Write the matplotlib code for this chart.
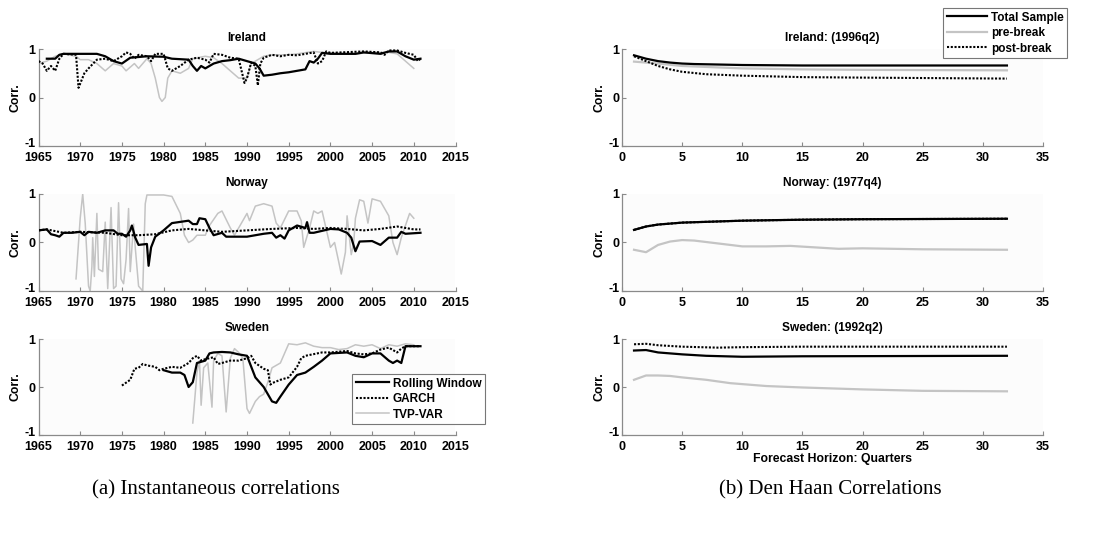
import numpy as np
import matplotlib
matplotlib.use("Agg")
import matplotlib.pyplot as plt
from matplotlib.lines import Line2D
from matplotlib.transforms import ScaledTranslation

plt.rcParams['font.family'] = ['Liberation Sans', 'DejaVu Sans']
plt.rcParams['font.weight'] = 'bold'

# ---------------- Instantaneous correlations (year, value) ----------------
ire_roll_t = [1966, 1967, 1967.5, 1968, 1970, 1972, 1973, 1974, 1975, 1976, 1978, 1980, 1981, 1983,
              1983.5, 1984, 1984.5, 1985, 1986, 1987, 1988, 1989, 1990, 1991, 1991.5, 1992, 1993,
              1994, 1995, 1996, 1997, 1997.5, 1998, 1998.5, 1999, 2000, 2003, 2004, 2006, 2007,
              2008, 2009, 2010, 2010.8]
ire_roll_v = [0.8, 0.8, 0.88, 0.9, 0.9, 0.9, 0.85, 0.75, 0.7, 0.82, 0.85, 0.84, 0.8, 0.78,
              0.65, 0.55, 0.65, 0.6, 0.7, 0.75, 0.77, 0.8, 0.75, 0.7, 0.6, 0.45, 0.47,
              0.5, 0.52, 0.55, 0.58, 0.75, 0.72, 0.8, 0.92, 0.9, 0.9, 0.93, 0.9, 0.95,
              0.95, 0.85, 0.78, 0.8]

ire_garch_t = [1965, 1965.5, 1966, 1966.5, 1967, 1967.5, 1968, 1969.5, 1969.8, 1970.5, 1971, 1972,
               1973, 1974, 1975, 1975.5, 1976, 1976.5, 1977, 1978, 1978.5, 1979, 1980, 1980.5,
               1981, 1982, 1983, 1984, 1985, 1985.5, 1986, 1987, 1988, 1989, 1989.7, 1990,
               1990.5, 1991, 1991.3, 1991.6, 1992, 1993, 1994, 1995, 1996, 1997, 1998, 1998.5,
               1999, 1999.5, 2000, 2004, 2006, 2006.5, 2007, 2008, 2009, 2010, 2010.5, 2010.8]
ire_garch_v = [0.75, 0.7, 0.55, 0.65, 0.55, 0.8, 0.9, 0.88, 0.2, 0.5, 0.6, 0.78,
               0.8, 0.75, 0.85, 0.93, 0.9, 0.8, 0.88, 0.85, 0.75, 0.9, 0.9, 0.6,
               0.55, 0.65, 0.78, 0.82, 0.78, 0.72, 0.9, 0.88, 0.82, 0.8, 0.3, 0.4,
               0.72, 0.65, 0.25, 0.7, 0.82, 0.88, 0.85, 0.88, 0.87, 0.9, 0.93, 0.7,
               0.75, 0.95, 0.92, 0.95, 0.93, 0.88, 0.97, 0.97, 0.92, 0.88, 0.75, 0.8]

ire_tvp_t = [1965, 1966, 1967, 1968, 1969.5, 1970, 1971, 1972, 1973, 1974, 1975, 1975.5, 1976.5,
             1977, 1978, 1978.5, 1979, 1979.5, 1979.8, 1980.2, 1980.5, 1981, 1982, 1983, 1983.5,
             1984, 1985, 1986, 1987, 1988, 1989, 1990, 1990.5, 1991, 1992, 1993, 1995, 1996,
             1998, 1999, 2000, 2001, 2003, 2005, 2007, 2008, 2009, 2010]
ire_tvp_v = [0.7, 0.75, 0.85, 0.9, 0.85, 0.78, 0.78, 0.7, 0.55, 0.7, 0.65, 0.55, 0.7,
             0.6, 0.8, 0.7, 0.4, 0.0, -0.08, 0.0, 0.4, 0.55, 0.5, 0.6, 0.8,
             0.82, 0.85, 0.82, 0.7, 0.55, 0.4, 0.4, 0.7, 0.75, 0.85, 0.88, 0.88, 0.9,
             0.95, 0.93, 0.92, 0.9, 0.9, 0.93, 0.93, 0.9, 0.75, 0.6]

nor_roll_t = [1965, 1966, 1966.5, 1967, 1967.5, 1968, 1969, 1970, 1970.5, 1971, 1972, 1973, 1974,
              1974.5, 1975, 1975.5, 1976, 1976.2, 1976.6, 1977, 1978, 1978.2, 1978.5, 1979, 1980,
              1981, 1983, 1983.5, 1984, 1984.3, 1985, 1985.5, 1986, 1987, 1987.5, 1989, 1990,
              1991, 1992, 1993, 1993.5, 1994, 1994.5, 1995, 1996, 1997, 1997.2, 1997.5, 1998,
              2000, 2001, 2002, 2002.5, 2003, 2003.5, 2005, 2006, 2007, 2008, 2008.5, 2009, 2010.8]
nor_roll_v = [0.25, 0.27, 0.17, 0.15, 0.12, 0.2, 0.2, 0.22, 0.15, 0.22, 0.2, 0.25, 0.25,
              0.18, 0.18, 0.12, 0.25, 0.35, 0.1, -0.05, -0.03, -0.48, -0.1, 0.12, 0.25,
              0.4, 0.45, 0.38, 0.38, 0.5, 0.48, 0.3, 0.15, 0.2, 0.12, 0.12, 0.12,
              0.15, 0.18, 0.2, 0.1, 0.15, 0.08, 0.25, 0.35, 0.3, 0.42, 0.2, 0.2,
              0.28, 0.27, 0.2, 0.1, -0.18, 0.02, 0.03, -0.05, 0.1, 0.1, 0.22, 0.18, 0.2]

nor_garch_t = [1965, 1966, 1968, 1970, 1973, 1975, 1977, 1979, 1981, 1983, 1985, 1987, 1990,
               1993, 1996, 1998, 2000, 2002, 2004, 2006, 2008, 2010, 2010.8]
nor_garch_v = [0.25, 0.27, 0.2, 0.22, 0.2, 0.15, 0.15, 0.17, 0.25, 0.28, 0.25, 0.22, 0.25,
               0.28, 0.3, 0.28, 0.3, 0.28, 0.25, 0.28, 0.33, 0.27, 0.27]

nor_tvp_t = [1969.5, 1970, 1970.3, 1970.6, 1971, 1971.2, 1971.4, 1971.5, 1971.7, 1972, 1972.2,
             1972.7, 1973, 1973.3, 1973.7, 1974, 1974.3, 1974.6, 1974.9, 1975.2, 1975.5, 1975.8,
             1976, 1976.4, 1976.6, 1977, 1977.5, 1977.8, 1978, 1980, 1981, 1982, 1982.5, 1983,
             1983.5, 1984, 1985, 1985.5, 1986.5, 1987, 1988, 1988.5, 1989, 1990, 1990.3, 1991,
             1992, 1993, 1993.5, 1994, 1995, 1996, 1996.5, 1996.8, 1997.5, 1998, 1998.5, 1999,
             2000, 2000.5, 2001, 2001.3, 2001.8, 2002, 2002.5, 2002.8, 2003, 2003.5, 2004,
             2004.5, 2005, 2006, 2007, 2007.5, 2008, 2008.5, 2009.5, 2010]
nor_tvp_v = [-0.75, 0.5, 1.0, 0.4, -0.9, -1.0, -0.5, 0.1, -0.7, 0.6, -0.55,
             -0.6, 0.42, -0.95, 0.72, -0.95, -0.9, 0.82, -0.75, -0.85, -0.35, 0.7,
             -0.6, 0.38, -0.1, -0.9, -1.0, 0.8, 0.98, 0.98, 0.95, 0.6, 0.15, 0.0,
             0.05, 0.15, 0.15, 0.35, 0.6, 0.65, 0.3, 0.15, 0.3, 0.6, 0.45, 0.75,
             0.8, 0.75, 0.4, 0.3, 0.65, 0.65, 0.45, -0.1, 0.3, 0.65, 0.6, 0.65,
             -0.1, 0.0, -0.4, -0.65, -0.2, 0.55, -0.25, 0.0, 0.5, 0.88, 0.85,
             0.4, 0.9, 0.85, 0.55, 0.0, -0.25, 0.1, 0.6, 0.5]

swe_roll_t = [1980, 1981, 1982, 1982.5, 1983, 1983.5, 1984, 1985, 1985.5, 1986, 1987, 1988, 1989,
              1990, 1991, 1992, 1992.5, 1993, 1993.5, 1994, 1995, 1996, 1997, 1998, 1999, 2000,
              2002, 2003, 2004, 2005, 2006, 2007, 2007.5, 2008, 2008.5, 2009, 2010.8]
swe_roll_v = [0.35, 0.3, 0.3, 0.25, 0.0, 0.1, 0.5, 0.55, 0.7, 0.72, 0.73, 0.72, 0.68,
              0.65, 0.2, 0.0, -0.15, -0.3, -0.33, -0.2, 0.05, 0.25, 0.3, 0.42, 0.55, 0.7,
              0.72, 0.65, 0.62, 0.7, 0.7, 0.55, 0.5, 0.55, 0.5, 0.85, 0.85]

swe_garch_t = [1975, 1976, 1976.5, 1977, 1977.5, 1978, 1979, 1979.5, 1980, 1981, 1982, 1982.5,
               1983, 1983.5, 1984, 1984.5, 1985, 1986, 1986.5, 1987, 1988, 1989, 1990, 1990.5,
               1991, 1992, 1992.5, 1992.8, 1993, 1994, 1995, 1996, 1996.5, 1997, 1999, 2000,
               2002, 2003, 2004, 2005, 2006, 2007, 2008, 2008.5, 2009, 2010.8]
swe_garch_v = [0.03, 0.15, 0.38, 0.4, 0.48, 0.45, 0.42, 0.35, 0.38, 0.42, 0.4, 0.45,
               0.5, 0.6, 0.65, 0.55, 0.58, 0.62, 0.48, 0.5, 0.55, 0.55, 0.6, 0.65,
               0.5, 0.38, 0.35, 0.05, 0.08, 0.15, 0.2, 0.42, 0.6, 0.65, 0.72, 0.72,
               0.75, 0.7, 0.68, 0.7, 0.78, 0.82, 0.72, 0.8, 0.85, 0.85]

swe_tvp_t = [1983.5, 1984, 1984.3, 1984.5, 1984.8, 1985.3, 1985.8, 1986, 1986.5, 1987, 1987.5,
             1988, 1988.5, 1989, 1989.5, 1990, 1990.3, 1991, 1991.5, 1992, 1992.5, 1993, 1994,
             1995, 1996, 1997, 1998, 1999, 2000, 2001, 2002, 2003, 2004, 2005, 2006, 2007,
             2008, 2009, 2010]
swe_tvp_v = [-0.75, 0.3, 0.55, -0.38, 0.4, 0.5, -0.42, 0.55, 0.7, 0.65, -0.52,
             0.6, 0.8, 0.72, 0.6, -0.45, -0.55, -0.3, -0.2, -0.15, 0.1, 0.4, 0.5,
             0.9, 0.88, 0.92, 0.85, 0.82, 0.82, 0.78, 0.8, 0.88, 0.85, 0.88, 0.8, 0.88,
             0.85, 0.9, 0.88]

# ---------------- Den Haan correlations (horizon in quarters, value) ----------------
ire_total_h = [1, 2, 3, 4, 5, 6, 8, 10, 15, 20, 32]
ire_total_v = [0.87, 0.8, 0.75, 0.72, 0.7, 0.69, 0.68, 0.67, 0.66, 0.66, 0.66]
ire_pre_h = [1, 2, 3, 5, 8, 10, 15, 20, 32]
ire_pre_v = [0.74, 0.72, 0.7, 0.65, 0.62, 0.6, 0.58, 0.57, 0.56]
ire_post_h = [1, 2, 3, 4, 5, 7, 10, 15, 20, 32]
ire_post_v = [0.85, 0.75, 0.65, 0.58, 0.53, 0.48, 0.45, 0.42, 0.41, 0.39]

nor_total_h = [1, 2, 3, 5, 10, 15, 20, 32]
nor_total_v = [0.26, 0.33, 0.37, 0.41, 0.45, 0.47, 0.48, 0.49]
nor_pre_h = [1, 2, 3, 4, 5, 6, 8, 10, 12, 14, 16, 18, 20, 25, 32]
nor_pre_v = [-0.15, -0.2, -0.05, 0.02, 0.05, 0.04, -0.02, -0.08, -0.08, -0.07, -0.1, -0.13,
             -0.12, -0.14, -0.15]
nor_post_h = [1, 2, 3, 5, 10, 15, 20, 32]
nor_post_v = [0.26, 0.33, 0.37, 0.41, 0.45, 0.47, 0.48, 0.49]

swe_total_h = [1, 2, 3, 5, 7, 10, 15, 32]
swe_total_v = [0.76, 0.77, 0.72, 0.68, 0.65, 0.63, 0.64, 0.65]
swe_pre_h = [1, 2, 3, 4, 5, 7, 9, 12, 15, 20, 25, 32]
swe_pre_v = [0.15, 0.24, 0.24, 0.23, 0.2, 0.15, 0.08, 0.02, -0.01, -0.05, -0.08, -0.09]
swe_post_h = [1, 2, 3, 5, 8, 10, 15, 32]
swe_post_v = [0.89, 0.9, 0.87, 0.84, 0.82, 0.83, 0.84, 0.84]

year_ticks = list(range(1965, 2016, 5))
horizon_ticks = list(range(0, 36, 5))
corr_ticks = [-1, 0, 1]

left_titles = ["Ireland", "Norway", "Sweden"]
right_titles = ["Ireland: (1996q2)", "Norway: (1977q4)", "Sweden: (1992q2)"]
method_labels = ["Rolling Window", "GARCH", "TVP-VAR"]
sample_labels = ["Total Sample", "pre-break", "post-break"]

GRAY = "#c4c4c4"
SPINE = "#8a8a8a"
STYLE_SOLID = dict(color="black", lw=1.6, ls="-")
STYLE_DOT = dict(color="black", lw=1.5, ls=(0, (1, 0.8)))
STYLE_GRAY = dict(color=GRAY, lw=1.1, ls="-")

W, H = 1114, 533
fig = plt.figure(figsize=(W / 100, H / 100), dpi=100)


def frac(x0, top, x1, bottom):
    return [x0 / W, 1 - bottom / H, (x1 - x0) / W, (bottom - top) / H]


def style_axes(ax, xlim, xticks, title):
    ax.set_facecolor("#fcfcfc")
    ax.set_xlim(*xlim)
    ax.set_ylim(-1, 1)
    ax.set_xticks(xticks)
    ax.set_yticks(corr_ticks)
    ax.set_yticklabels(["-1", "0", "1"])
    for s in ("top", "right"):
        ax.spines[s].set_visible(False)
    for s in ("left", "bottom"):
        ax.spines[s].set_color(SPINE)
        ax.spines[s].set_linewidth(0.9)
    ax.tick_params(direction="in", length=3, width=0.8, color=SPINE,
                   labelsize=9)
    ax.tick_params(axis="x", pad=4)
    ax.tick_params(axis="y", pad=2)
    for lab in ax.get_xticklabels() + ax.get_yticklabels():
        lab.set_fontweight("bold")
    ax.set_title(title, fontsize=8.6, fontweight="bold", pad=6)
    ax.set_ylabel("Corr.", fontsize=8.8, fontweight="bold", labelpad=2)


def lift_bottom_ylabel(ax):
    # the "-1" label sits a touch above the axis corner
    lab = ax.get_yticklabels()[0]
    lab.set_transform(lab.get_transform() +
                      ScaledTranslation(0, 2.5 / 72, fig.dpi_scale_trans))


rows = [(49, 146), (194, 291), (339, 435)]

left_data = [
    ((ire_roll_t, ire_roll_v), (ire_garch_t, ire_garch_v), (ire_tvp_t, ire_tvp_v)),
    ((nor_roll_t, nor_roll_v), (nor_garch_t, nor_garch_v), (nor_tvp_t, nor_tvp_v)),
    ((swe_roll_t, swe_roll_v), (swe_garch_t, swe_garch_v), (swe_tvp_t, swe_tvp_v)),
]
right_data = [
    ((ire_total_h, ire_total_v), (ire_pre_h, ire_pre_v), (ire_post_h, ire_post_v)),
    ((nor_total_h, nor_total_v), (nor_pre_h, nor_pre_v), (nor_post_h, nor_post_v)),
    ((swe_total_h, swe_total_v), (swe_pre_h, swe_pre_v), (swe_post_h, swe_post_v)),
]

all_axes = []
right_axes = []
for i, (top, bottom) in enumerate(rows):
    ax = fig.add_axes(frac(38.5, top, 455.5, bottom))
    style_axes(ax, (1965, 2015), year_ticks, left_titles[i])
    (rt, rv), (gt, gv), (tt, tv) = left_data[i]
    ax.plot(tt, tv, **STYLE_GRAY, zorder=2)
    ax.plot(gt, gv, **STYLE_DOT, zorder=3)
    ax.plot(rt, rv, **STYLE_SOLID, zorder=4)
    all_axes.append(ax)

    ax2 = fig.add_axes(frac(622, top, 1043, bottom))
    style_axes(ax2, (0, 35), horizon_ticks, right_titles[i])
    (ht, hv), (pt, pv), (qt, qv) = right_data[i]
    ax2.plot(pt, pv, color=GRAY, lw=1.6, zorder=2)
    ax2.plot(ht, hv, **STYLE_SOLID, zorder=3)
    ax2.plot(qt, qv, **STYLE_DOT, zorder=4)
    all_axes.append(ax2)
    right_axes.append(ax2)

right_axes[-1].set_xlabel("Forecast Horizon: Quarters", fontsize=8.8,
                          fontweight="bold", labelpad=0)

for ax in all_axes:
    lift_bottom_ylabel(ax)

# Legends
legend_kw = dict(frameon=True, fancybox=False, edgecolor="#555555",
                 handletextpad=0.35, borderpad=0.3, labelspacing=0.3,
                 borderaxespad=0, prop={"weight": "bold", "size": 8.5})

method_handles = [Line2D([], [], **STYLE_SOLID), Line2D([], [], **STYLE_DOT),
                  Line2D([], [], **STYLE_GRAY)]
leg1 = fig.legend(method_handles, method_labels, loc="upper left",
                  bbox_to_anchor=(352 / W, 1 - 374 / H), handlelength=2.8,
                  **legend_kw)
leg1.get_frame().set_linewidth(0.8)

sample_handles = [Line2D([], [], **STYLE_SOLID), Line2D([], [], color=GRAY, lw=1.6),
                  Line2D([], [], **STYLE_DOT)]
leg2 = fig.legend(sample_handles, sample_labels, loc="upper left",
                  bbox_to_anchor=(943 / W, 1 - 8 / H), handlelength=3.4,
                  **legend_kw)
leg2.get_frame().set_linewidth(0.8)

# Sub-captions
fig.text(216 / W, 1 - 490 / H, "(a) Instantaneous correlations",
         family="Liberation Serif", fontweight="normal", fontsize=15,
         ha="center", va="center")
fig.text(830 / W, 1 - 490 / H, "(b) Den Haan Correlations",
         family="Liberation Serif", fontweight="normal", fontsize=15,
         ha="center", va="center")

fig.savefig("out.png", dpi=100, facecolor="white")
